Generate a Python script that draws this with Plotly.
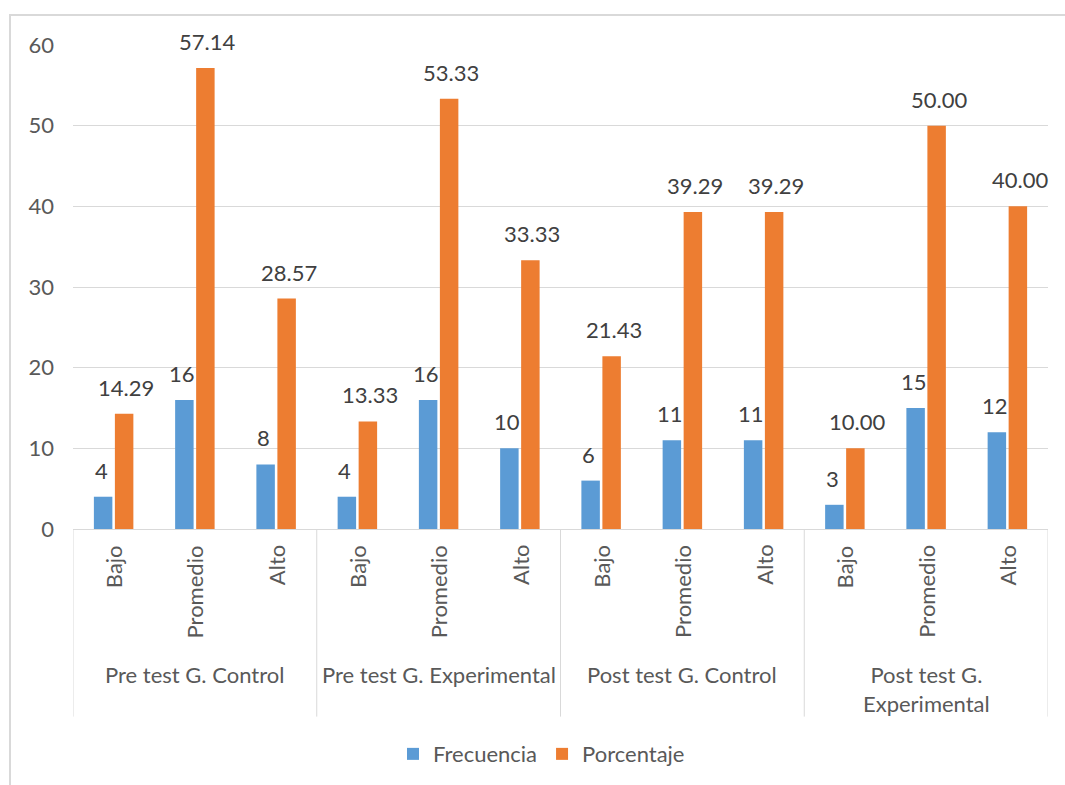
import plotly.graph_objects as go

# ---- data ----
groups = ["Pre test G. Control", "Pre test G. Experimental",
          "Post test G. Control", "Post test G.<br>Experimental"]
levels = ["Bajo", "Promedio", "Alto"]
frecuencia = [4, 16, 8, 4, 16, 10, 6, 11, 11, 3, 15, 12]
porcentaje = [14.29, 57.14, 28.57, 13.33, 53.33, 33.33,
              21.43, 39.29, 39.29, 10.00, 50.00, 40.00]
y_ticks = [0, 10, 20, 30, 40, 50, 60]

# ---- derived positions (category index) ----
n = len(groups) * len(levels)
xpos = list(range(n))
inner_labels = [levels[i % len(levels)] for i in range(n)]

FONT = "Lato"
FS = 22
BLUE = "#5B9BD5"
ORANGE = "#ED7D31"
GRID = "#D9D9D9"
TXT = "#595959"
LBL = "#404040"

fig = go.Figure()
fig.add_trace(go.Bar(x=xpos, y=frecuencia, name="Frecuencia",
                     marker=dict(color=BLUE, line=dict(width=0))))
fig.add_trace(go.Bar(x=xpos, y=porcentaje, name="Porcentaje",
                     marker=dict(color=ORANGE, line=dict(width=0))))

annotations = []
off = 0.154  # half slot offset of grouped bars in category units
for i in range(n):
    annotations.append(dict(x=xpos[i] - off, y=frecuencia[i], xref="x", yref="y",
                            text=f"{frecuencia[i]:d}", showarrow=False,
                            yanchor="bottom", yshift=11,
                            font=dict(family=FONT, size=FS, color=LBL)))
    annotations.append(dict(x=xpos[i] + off, y=porcentaje[i], xref="x", yref="y",
                            text=f"{porcentaje[i]:.2f}", showarrow=False,
                            yanchor="bottom", yshift=11,
                            font=dict(family=FONT, size=FS, color=LBL)))
    annotations.append(dict(x=xpos[i], y=-0.029, xref="x", yref="paper",
                            text=inner_labels[i], showarrow=False, textangle=-90,
                            xanchor="center", yanchor="top",
                            font=dict(family=FONT, size=FS, color=TXT)))

shapes = []
for g, name in enumerate(groups):
    center = g * len(levels) + (len(levels) - 1) / 2
    annotations.append(dict(x=center, y=-0.268, xref="x", yref="paper",
                            text=name, showarrow=False,
                            xanchor="center", yanchor="top",
                            font=dict(family=FONT, size=FS, color=TXT)))
for b in range(len(groups) + 1):
    xb = b * len(levels) - 0.5
    shapes.append(dict(type="line", xref="x", yref="paper", x0=xb, x1=xb,
                       y0=0, y1=-0.3876, line=dict(color=GRID, width=1)))
# outer chart frame
shapes.append(dict(type="rect", xref="paper", yref="paper",
                   x0=-0.0646, x1=1.2, y0=-0.8, y1=1.0619,
                   line=dict(color=GRID, width=2)))

fig.update_layout(
    width=1065, height=785,
    margin=dict(l=73, r=17, t=45, b=255),
    paper_bgcolor="white", plot_bgcolor="white",
    barmode="group", bargap=0.483, bargroupgap=0.12,
    font=dict(family=FONT, size=FS, color=TXT),
    xaxis=dict(range=[-0.5, n - 0.5], showticklabels=False, showgrid=False,
               zeroline=False, showline=True, linecolor=GRID, linewidth=1,
               fixedrange=True),
    yaxis=dict(range=[0, 60], tickvals=y_ticks, showgrid=True, gridcolor=GRID,
               gridwidth=1, zeroline=False, showline=False, ticks="",
               ticklabelstandoff=18,
               tickfont=dict(family=FONT, size=FS, color=TXT)),
    legend=dict(orientation="h", x=0.4805, xanchor="center", y=-0.462,
                yanchor="middle", font=dict(family=FONT, size=FS, color=TXT),
                bgcolor="rgba(0,0,0,0)"),
    annotations=annotations, shapes=shapes,
)

fig.write_html("out.html")
